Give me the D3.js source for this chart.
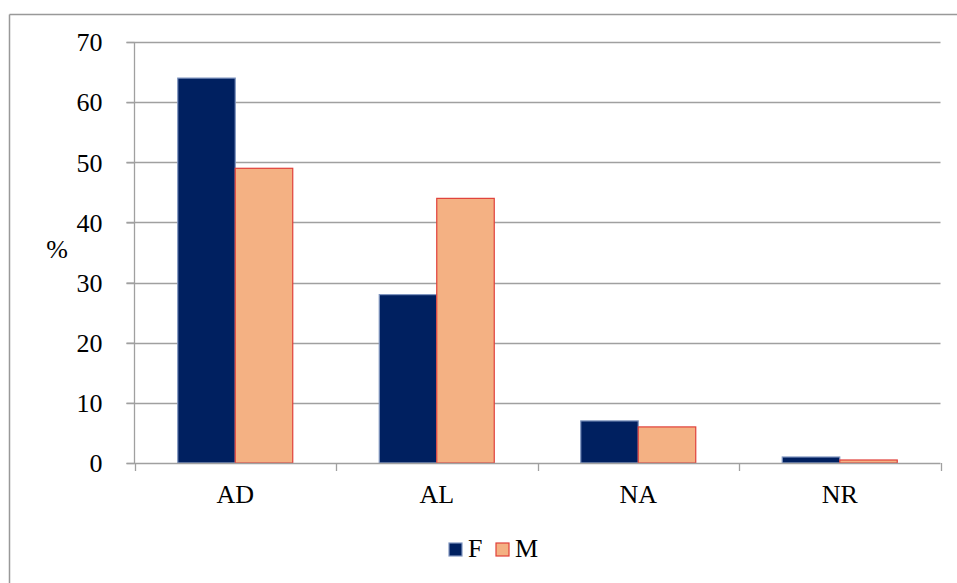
<!DOCTYPE html>
<html><head><meta charset="utf-8">
<script src="https://cdn.jsdelivr.net/npm/d3@7/dist/d3.min.js"></script>
<style>body{margin:0;background:#fff}svg{display:block}svg text{font-family:"Liberation Serif","Times New Roman","DejaVu Serif",serif !important;}</style>
</head><body>
<svg id="c" width="957" height="583"></svg>
<script>
const categories = ["AD", "AL", "NA", "NR"];
const seriesNames = ["F", "M"];
const valuesF = [64, 28, 7, 1];
const valuesM = [49, 44, 6, 0.5];
const yTicks = [0, 10, 20, 30, 40, 50, 60, 70];

(function () {
const svg = d3.select("#c");
const fs = 26;
const colors = {F: "#002060", M: "#F4B183"};
const strokes = {F: "#8096c0", M: "#e0403a"};

// outer frame (top and left visible)
svg.append("line").attr("x1", 9.5).attr("x2", 957).attr("y1", 14.5).attr("y2", 14.5).attr("stroke", "#999").attr("stroke-width", 1.5);
svg.append("line").attr("x1", 9.5).attr("x2", 9.5).attr("y1", 14.5).attr("y2", 583).attr("stroke", "#999").attr("stroke-width", 1.5);

const pLeft = 134.5, pRight = 940.5, pTop = 42, pBottom = 463;
const x = d3.scaleBand().domain(categories).range([pLeft, pRight]).paddingInner(0).paddingOuter(0);
const y = d3.scaleLinear().domain([0, 70]).range([pBottom, pTop]);

// gridlines
svg.append("g").selectAll("line").data(yTicks.filter(d => d > 0)).join("line")
  .attr("x1", pLeft - 8).attr("x2", pRight).attr("y1", d => Math.round(y(d)) + 0.5).attr("y2", d => Math.round(y(d)) + 0.5)
  .attr("stroke", "#a0a0a0").attr("stroke-width", 1.3);

// y axis
const ya = svg.append("g").attr("transform", `translate(${pLeft},0)`)
  .call(d3.axisLeft(y).tickValues(yTicks).tickSize(8).tickPadding(24).tickFormat(d3.format("d")));
ya.select(".domain").attr("stroke", "#a0a0a0").attr("stroke-width", 1.3).attr("d", `M0,${pTop}V${pBottom}`);
ya.selectAll(".tick line").attr("stroke", "#a0a0a0").attr("stroke-width", 1.3);
ya.selectAll(".tick text").attr("font-size", fs).attr("fill", "#000").attr("dy", "0.34em");

// bars
const data = categories.map((c, i) => ({c, F: valuesF[i], M: valuesM[i]}));
const g = svg.append("g");
const bw = 57.5;
const offset = (x.bandwidth() - 2 * bw) / 2;
seriesNames.forEach((s, si) => {
  g.selectAll(".b" + s).data(data).join("rect")
    .attr("x", d => x(d.c) + offset + si * bw)
    .attr("width", bw)
    .attr("y", d => y(d[s]))
    .attr("height", d => pBottom - y(d[s]))
    .attr("fill", colors[s])
    .attr("stroke", strokes[s]).attr("stroke-width", 1.2);
});

// x axis
const xa = svg.append("g").attr("transform", `translate(0,${pBottom})`)
  .call(d3.axisBottom(x).tickSize(0).tickPadding(22));
xa.select(".domain").attr("stroke", "#a0a0a0").attr("stroke-width", 1.5).attr("d", `M${pLeft - 8},0.5H${pRight}`);
xa.selectAll(".tick text").attr("font-size", fs).attr("fill", "#000").attr("y", 40).attr("dy", 0);
const bounds = categories.map(c => x(c)).concat([pRight]);
svg.append("g").selectAll("line").data(bounds).join("line")
  .attr("x1", d => Math.round(d) + 0.5).attr("x2", d => Math.round(d) + 0.5)
  .attr("y1", pBottom).attr("y2", pBottom + 8).attr("stroke", "#a0a0a0").attr("stroke-width", 1.3);

// y title
svg.append("text").attr("x", 57).attr("y", 258).attr("text-anchor", "middle")
  .attr("font-size", fs).text("%");

// legend
const leg = svg.append("g");
const items = [{s: "F", x: 449}, {s: "M", x: 496}];
items.forEach(it => {
  leg.append("rect").attr("x", it.x).attr("y", 543).attr("width", 13).attr("height", 13)
    .attr("fill", colors[it.s]).attr("stroke", strokes[it.s]).attr("stroke-width", 1.2);
  leg.append("text").attr("x", it.x + 19).attr("y", 557).attr("font-size", fs).text(it.s);
});
})();
</script>
</body></html>
